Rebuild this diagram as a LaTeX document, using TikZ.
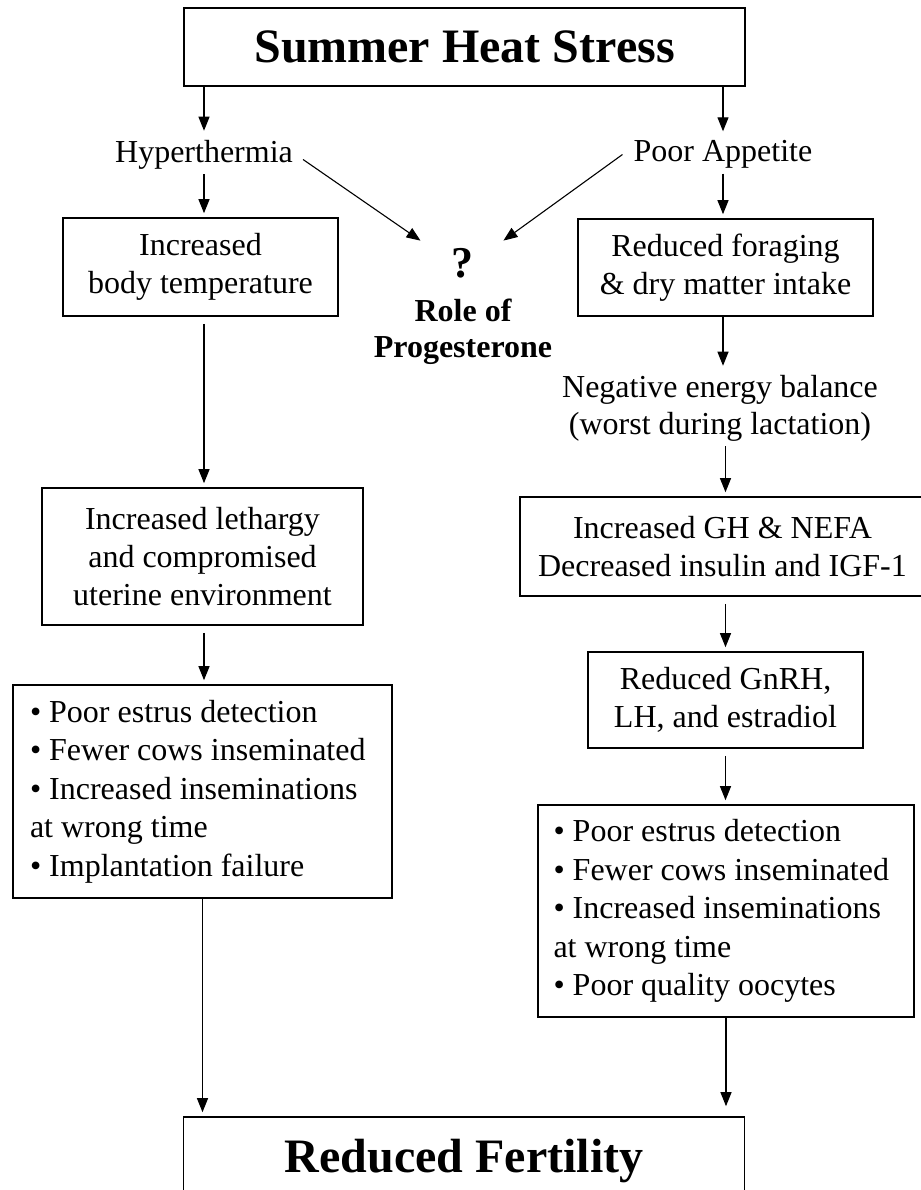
\documentclass[tikz,border=0pt]{standalone}
\usepackage{fontspec}
\setmainfont{Liberation Serif}
\usetikzlibrary{arrows.meta}
\tikzset{
  every node/.style={execute at begin node={\spaceskip=0pt\xspaceskip=0pt\relax}},
  box/.style={draw, line width=1.6pt, align=center, font=\fontsize{32}{38}\selectfont},
  lbl/.style={inner sep=5pt, align=center, font=\fontsize{32}{37}\selectfont},
  bullets/.style={draw, line width=1.6pt, align=left, text width=345pt, inner xsep=17pt, font=\fontsize{32}{38.5}\selectfont},
  arr/.style={-{Triangle[length=14pt,width=11pt]}, line width=1.1pt, shorten >=4pt},
  gap/.style={shorten <=7pt}
}
\begin{document}
\begin{tikzpicture}[x=1pt,y=-1pt]
\fill[white] (0,0) rectangle (920,1190);
\useasboundingbox (0,0) rectangle (920,1190);

% top and bottom
\node[box, minimum width=561pt, minimum height=78pt, text depth=0pt, font=\bfseries\fontsize{48}{52}\selectfont] (heat) at (464.5,47) {Summer Heat Stress};
\node[box, minimum width=561pt, minimum height=78pt, text depth=0pt, font=\bfseries\fontsize{48}{52}\selectfont] (fert) at (464,1156) {Reduced Fertility};

% left branch
\node[lbl] (hyp) at (204,154.5) {Hyperthermia};
\node[box, minimum width=275pt, minimum height=98pt] (body) at (200.5,267) {Increased\\body temperature};
\node[box, minimum width=321pt, minimum height=137pt] (leth) at (202.5,556.5) {Increased lethargy\\and compromised\\uterine environment};
\node[bullets, minimum height=213pt] (bul1) at (202.5,791.5) {• Poor estrus detection\\• Fewer cows inseminated\\• Increased inseminations\\at wrong time\\• Implantation failure};

% middle
\node[font=\bfseries\fontsize{44}{44}\selectfont, minimum width=76pt, inner sep=5pt] (q) at (462,263) {?};
\node[lbl, font=\bfseries\fontsize{32}{36}\selectfont] (role) at (463,332) {Role of\\Progesterone};

% right branch
\node[lbl] (app) at (723,154.5) {Poor Appetite};
\node[box, minimum width=295pt, minimum height=97pt] (forage) at (725.5,267.5) {Reduced foraging\\\& dry matter intake};
\node[lbl] (neb) at (720,408) {Negative energy balance\\(worst during lactation)};
\node[box, minimum width=405pt, minimum height=99pt] (gh) at (722.5,546.5) {Increased GH \& NEFA\\Decreased insulin and IGF-1};
\node[box, minimum width=275pt, minimum height=96pt] (gnrh) at (725.5,700) {Reduced GnRH,\\LH, and estradiol};
\node[bullets, inner xsep=15.5pt, minimum height=212pt] (bul2) at (726,911) {• Poor estrus detection\\• Fewer cows inseminated\\• Increased inseminations\\at wrong time\\• Poor quality oocytes};

% arrows
\draw[arr] (heat.south -| hyp) -- (hyp);
\draw[arr] (heat.south -| app) -- (app);
\draw[arr] (hyp) -- (hyp |- body.north);
\draw[arr] (app) -- (app |- forage.north);
\draw[arr] ([shift={(5pt,-5pt)}]hyp.east) -- (q.north west);
\draw[arr] ([xshift=-6pt]app.west) -- (q.north east);
\draw[arr, gap] (body.south -| hyp) -- (leth.north -| hyp);
\draw[arr, gap] (leth.south -| hyp) -- (bul1.north -| hyp);
\draw[arr] (bul1) -- (bul1 |- fert.north);
\draw[arr] (forage.south -| app) -- (neb.north -| app);
\draw[arr] (neb.south -| gnrh) -- (gh.north -| gnrh);
\draw[arr, gap] (gh.south -| gnrh) -- (gnrh);
\draw[arr, gap] (gnrh) -- (gnrh |- bul2.north);
\draw[arr, shorten >=10pt] (bul2) -- (bul2 |- fert.north);
\end{tikzpicture}
\end{document}
